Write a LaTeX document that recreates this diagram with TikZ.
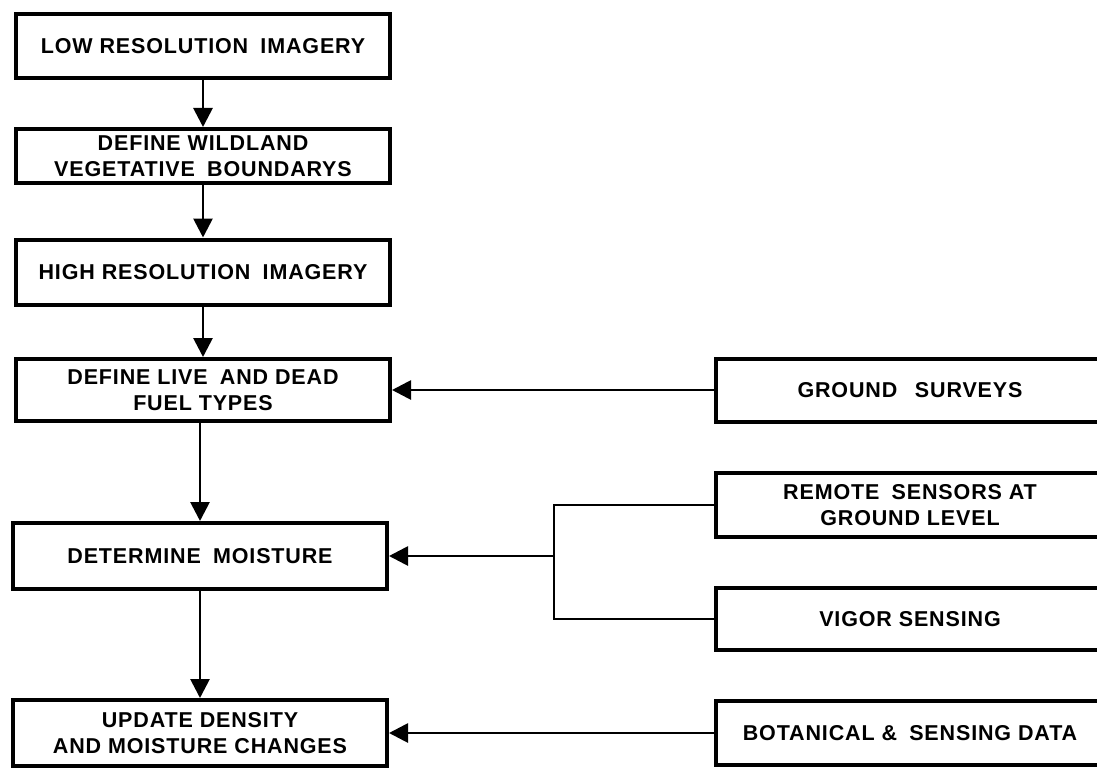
\documentclass[tikz,border=0pt]{standalone}
\usepackage{fontspec}
\newfontfamily\labfont[LetterSpace=4]{Liberation Sans}
\usetikzlibrary{arrows.meta}
\begin{document}
\begin{tikzpicture}[x=1pt,y=-1pt,
  box/.style={draw,line width=4pt,inner sep=0pt,align=center,
    font=\labfont\bfseries\fontsize{21.5}{26}\selectfont},
  lbox/.style={box,minimum width=374pt},
  rbox/.style={box,minimum width=388pt},
  conn/.style={line width=2.8pt},
  arr/.style={conn,-{Triangle[length=19pt,width=19pt]}}]
\useasboundingbox (0,0) rectangle (1097,770);
\clip (0,0) rectangle (1097,770);
\fill[white] (0,0) rectangle (1097,770);
% left column
\node[lbox,minimum height=64pt] (b1) at (203,46) {LOW RESOLUTION\hspace{0.25em} IMAGERY};
\node[lbox,minimum height=54pt] (b2) at (203,156) {DEFINE WILDLAND\\VEGETATIVE\hspace{0.25em} BOUNDARYS};
\node[lbox,minimum height=65pt] (b3) at (203,272) {HIGH RESOLUTION\hspace{0.25em} IMAGERY};
\node[lbox,minimum height=62pt] (b4) at (203,390) {DEFINE LIVE\hspace{0.25em} AND DEAD\\FUEL TYPES};
\node[lbox,minimum height=66pt] (b5) at (200,556) {DETERMINE\hspace{0.25em} MOISTURE};
\node[lbox,minimum height=66pt] (b6) at (200,733) {UPDATE DENSITY\\AND MOISTURE CHANGES};
% right column
\node[rbox,minimum height=63pt] (gs) at (910,390) {GROUND\hspace{0.5em} SURVEYS};
\node[rbox,minimum height=64pt] (rs) at (910,505) {REMOTE\hspace{0.25em} SENSORS AT\\GROUND LEVEL};
\node[rbox,minimum height=62pt] (vs) at (910,619) {VIGOR SENSING};
\node[rbox,minimum height=64pt] (bd) at (910,733) {BOTANICAL \&\hspace{0.25em} SENSING DATA};
% vertical flow
\draw[arr] (b1) -- (b2);
\draw[arr] (b2) -- (b3);
\draw[arr] (b3) -- (b4);
\draw[arr] (b4.south -| b5) -- (b5);
\draw[arr] (b5.south -| b6) -- (b6);
% horizontal inputs
\draw[arr] (gs) -- (b4);
\coordinate (j) at (554,556);
\draw[conn] (rs.west) -| (j) |- (vs.west);
\draw[arr] (j) -- (b5);
\draw[arr] (bd) -- (b6);
\end{tikzpicture}
\end{document}
